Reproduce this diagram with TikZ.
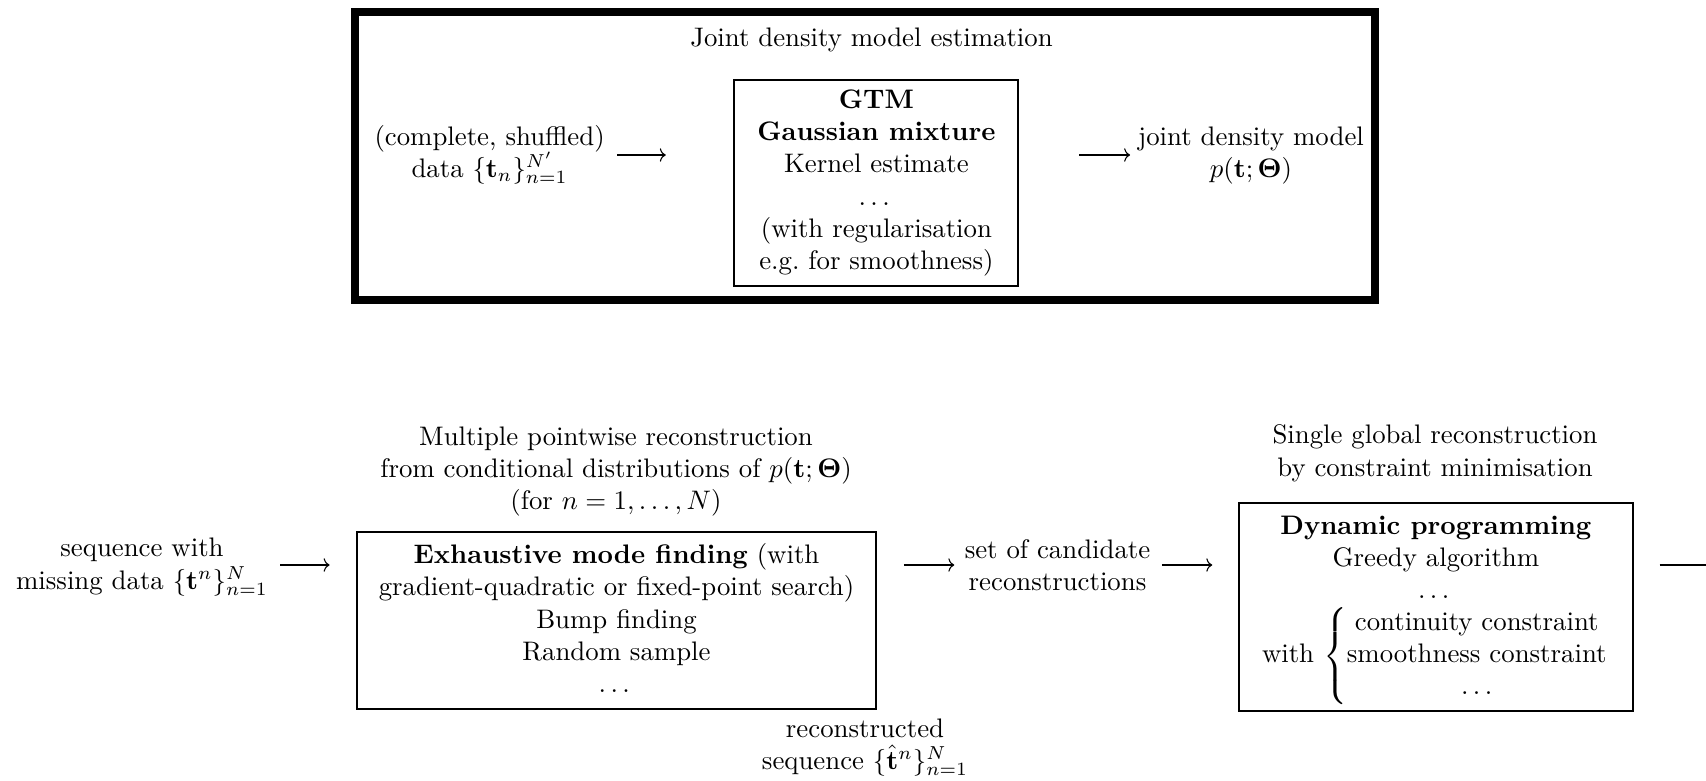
\documentclass[tikz,border=0pt]{standalone}
\usepackage{amsmath,bm}
\usetikzlibrary{arrows.meta}
\begin{document}
\begin{tikzpicture}[x=0.37313pt,y=-0.37313pt,
  lbl/.style={inner sep=0pt, align=center},
  stagebox/.style={draw, line width=0.75pt, inner sep=0pt, outer sep=0pt, align=center},
  outerframe/.style={draw, line width=2.8pt, inner sep=0pt, outer sep=0pt},
  arr/.style={line width=0.4pt, -{To[length=2.2pt,width=5pt]}}]
\clip (0,0) rectangle (1706,781);

% rows on which the arrows run
\coordinate (toprow) at (0,155);
\coordinate (botrow) at (0,565);

% joint density model estimation
\node[outerframe, minimum width=380.5pt, minimum height=107.5pt] (frame) at (864.85,156) {};
\node[lbl] (title) at (871.5,40) {Joint density model estimation};
\node[lbl] (data) at (489.6,154.5) {(complete, shuffled)\\ data $\{\mathbf{t}_n\}_{n=1}^{N'}$};
\node[stagebox, minimum width=106pt, minimum height=76.9pt] (gtm) at (876.4,183)
  {\textbf{GTM}\\ \textbf{Gaussian mixture}\\ Kernel estimate\\ $\dots$\\ (with regularisation\\ e.g.\ for smoothness)};
\node[lbl] (jdm) at (1251,155.5) {joint density model\\ $p(\mathbf{t};\bm{\Theta})$};
\draw[arr, shorten <=4.5pt, shorten >=25.6pt] (data.east |- toprow) -- (gtm.west |- toprow);
\draw[arr, shorten <=22.6pt, shorten >=2.8pt] (gtm.east |- toprow) -- (jdm.west |- toprow);

% reconstruction pipeline
\node[lbl] (multi) at (616,471.3) {Multiple pointwise reconstruction\\ from conditional distributions of $p(\mathbf{t};\bm{\Theta})$\\ (for $n=1,\dots,N$)};
\node[lbl] (seq) at (142,567) {sequence with\\ missing data $\{\mathbf{t}^n\}_{n=1}^{N}$};
\node[stagebox, minimum width=193.7pt, minimum height=65.9pt] (exh) at (616.5,620.5)
  {\textbf{Exhaustive mode finding} (with\\ gradient-quadratic or fixed-point search)\\ Bump finding\\ Random sample\\ $\dots$\rule[-1.9pt]{0pt}{1.9pt}};
\node[lbl] (rec) at (865,747.3) {reconstructed\\ sequence $\{\hat{\mathbf{t}}^n\}_{n=1}^{N}$};
\node[lbl] (cand) at (1057.5,565) {set of candidate\\ reconstructions};
\node[lbl] (single) at (1435,453.3) {Single global reconstruction\\ by constraint minimisation};
\node[stagebox, minimum width=146.9pt, minimum height=77.7pt] (dp) at (1435.9,606.9)
  {\rule{0pt}{9.35pt}\textbf{Dynamic programming}\\ Greedy algorithm\\ $\dots$\\[2.4pt] with $\left\{\begin{array}{@{}c@{}}\text{continuity constraint}\\ \text{smoothness constraint}\\ \dots\end{array}\right.$};
\coordinate (out) at (1712,565);

\draw[arr, shorten <=4.5pt, shorten >=10.2pt] (seq.east |- botrow) -- (exh.west |- botrow);
\draw[arr, shorten <=10.4pt, shorten >=3.7pt] (exh.east |- botrow) -- (cand.west |- botrow);
\draw[arr, shorten <=4.1pt, shorten >=10pt] (cand.east |- botrow) -- (dp.west |- botrow);
\draw[arr, shorten <=10pt] (dp.east |- out) -- (out);
\end{tikzpicture}
\end{document}
